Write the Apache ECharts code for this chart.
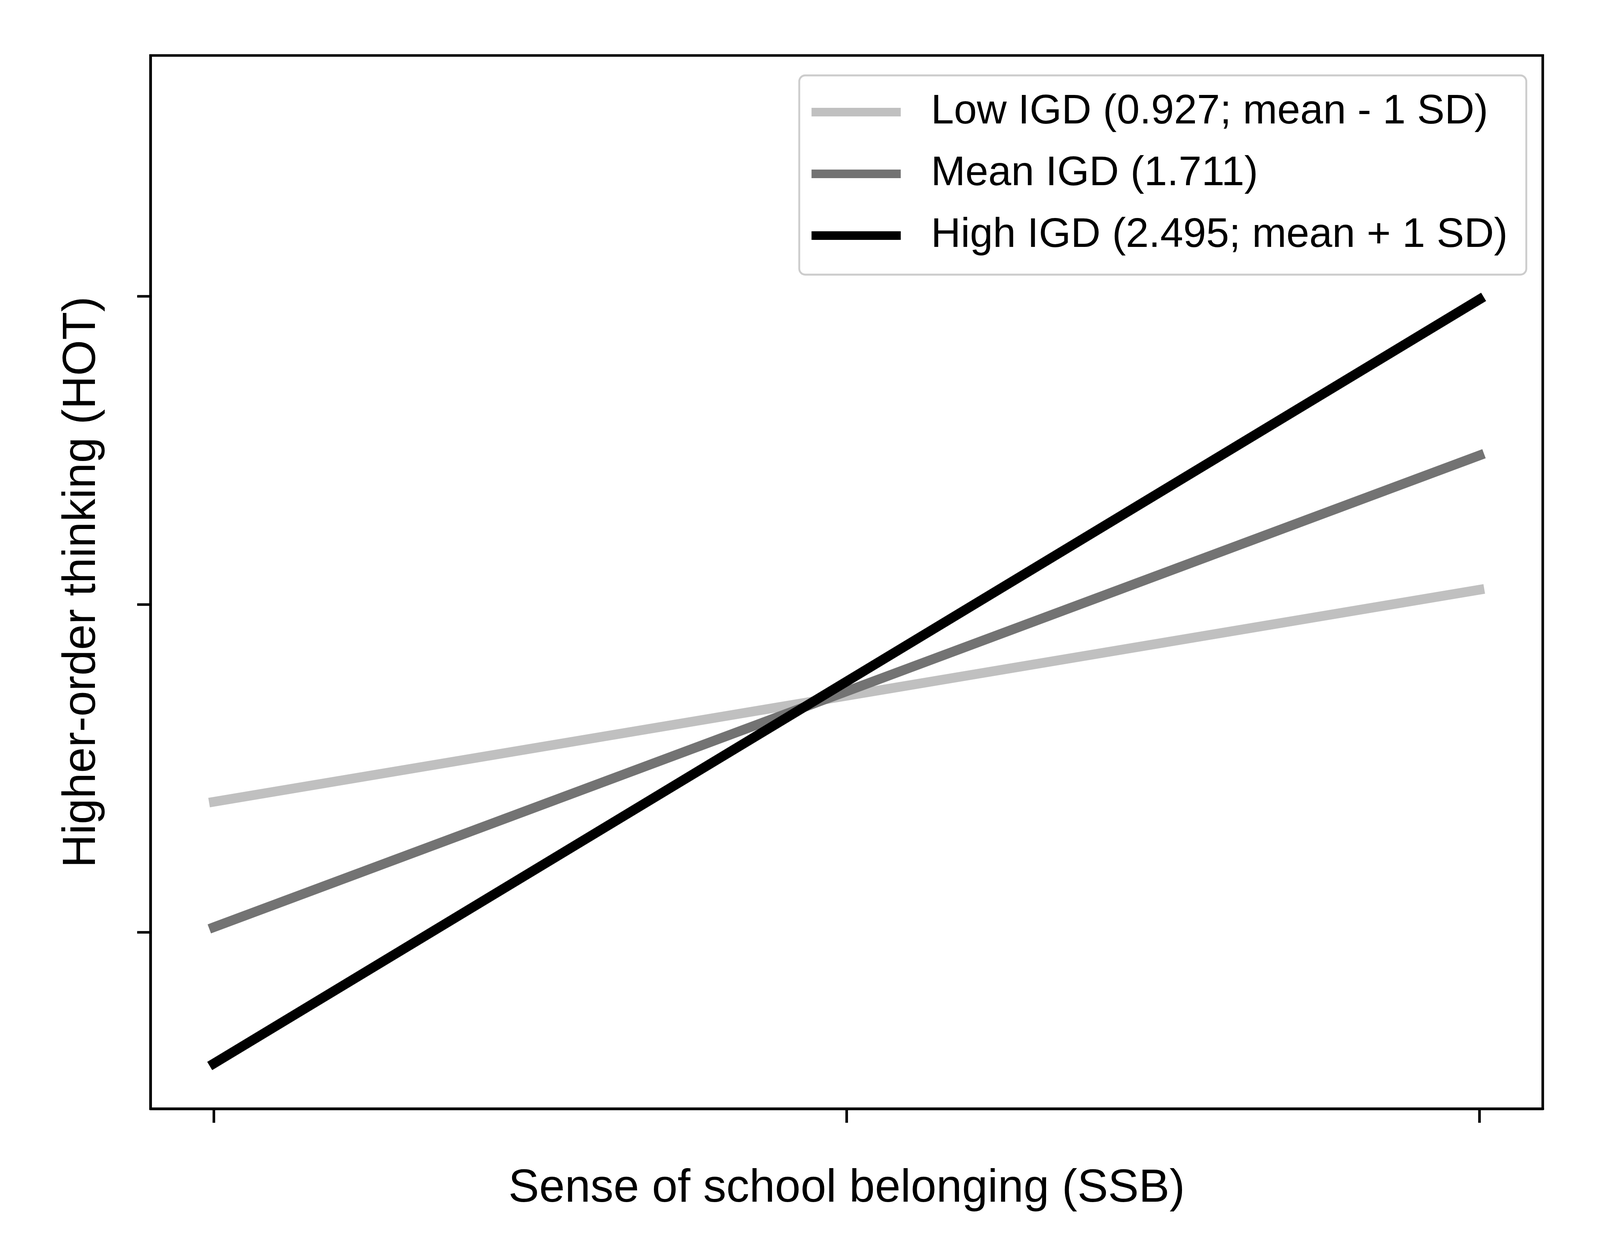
<!DOCTYPE html>
<html>

<head>
    <meta charset="utf-8">
    <title>IGD x SSB on HOT</title>
    <script src="https://cdn.jsdelivr.net/npm/echarts@6/dist/echarts.min.js"></script>
    <style>
        html, body { margin: 0; padding: 0; background: #fff; overflow: hidden; }
        #main { width: 100vw; height: 100vh; }
    </style>
</head>

<body>
    <div id="main"></div>
    <script type="text/javascript">
        // the layout was measured on a 4304 x 3215 canvas, scale it to the real viewport
        var W = window.innerWidth, H = window.innerHeight;
        var sx = W / 4304, sy = H / 3215;

        var myChart = echarts.init(document.getElementById('main'));

        // x: SSB at mean - 1 SD, mean + 1 SD (standardised)
        var ssbPoints = [-1, 1];
        var xTicks = [-1, 0, 1];
        // y ticks (unlabelled in the original)
        var yTicks = [-0.515, 0, 0.484];

        var seriesNames = ['Low IGD (0.927; mean - 1 SD)', 'Mean IGD (1.711)', 'High IGD (2.495; mean + 1 SD)'];
        var lowIGD = [-0.310, 0.023];
        var meanIGD = [-0.507, 0.234];
        var highIGD = [-0.721, 0.479];
        var lineColors = ['#c0c0c0', '#737373', '#000000'];

        var FONT = '"Liberation Sans", Arial, Helvetica, sans-serif';

        function pairs(ys) {
            return ssbPoints.map(function(x, i) {
                return [x, ys[i]];
            });
        }

        var allValues = [lowIGD, meanIGD, highIGD];
        var series = allValues.map(function(vals, i) {
            return {
                name: seriesNames[i],
                type: 'line',
                data: pairs(vals),
                showSymbol: false,
                symbol: 'none',
                animation: false,
                itemStyle: { color: lineColors[i] },
                lineStyle: { color: lineColors[i], width: 26 * sx, cap: 'square' },
                z: 3 + i
            };
        });

        var axisLineStyle = { color: '#000', width: 7 * sx };

        var option = {
            animation: false,
            backgroundColor: '#fff',
            grid: {
                left: 405 * sx,
                right: 154 * sx,
                top: 142 * sy,
                bottom: 377 * sy,
                show: true,
                borderColor: '#000',
                borderWidth: 7 * sx,
                backgroundColor: 'transparent',
                containLabel: false,
                outerBoundsMode: 'none'
            },
            legend: {
                orient: 'vertical',
                left: 2150 * sx,
                top: 193 * sy,
                padding: [34 * sy, 50 * sx, 40 * sy, 33 * sx],
                itemGap: 38 * sy,
                itemWidth: 240 * sx,
                itemHeight: 22 * sy,
                icon: 'rect',
                backgroundColor: '#fff',
                borderColor: '#cccccc',
                borderWidth: 5 * sx,
                borderRadius: 16 * sx,
                data: seriesNames,
                textStyle: {
                    fontFamily: FONT,
                    fontSize: 111 * sx,
                    lineHeight: 120 * sy,
                    color: '#000',
                    padding: [0, 0, 0, 76 * sx]
                }
            },
            xAxis: {
                type: 'value',
                min: -1.1,
                max: 1.1,
                name: 'Sense of school belonging (SSB)',
                nameLocation: 'middle',
                nameGap: 146 * sy,
                nameTextStyle: { fontFamily: FONT, fontSize: 124 * sx, color: '#000' },
                axisLine: { show: true, onZero: false, lineStyle: axisLineStyle },
                axisTick: {
                    show: true,
                    customValues: xTicks,
                    length: 36 * sy,
                    lineStyle: axisLineStyle
                },
                axisLabel: { show: false, customValues: xTicks },
                splitLine: { show: false }
            },
            yAxis: {
                type: 'value',
                min: -0.792,
                max: 0.862,
                name: 'Higher-order thinking (HOT)',
                nameLocation: 'middle',
                nameGap: 122 * sx,
                nameTextStyle: { fontFamily: FONT, fontSize: 124 * sx, color: '#000' },
                axisLine: { show: true, onZero: false, lineStyle: axisLineStyle },
                axisTick: {
                    show: true,
                    customValues: yTicks,
                    length: 36 * sx,
                    lineStyle: axisLineStyle
                },
                axisLabel: { show: false, customValues: yTicks },
                splitLine: { show: false }
            },
            series: series
        };

        myChart.setOption(option);
        window.addEventListener('resize', function() {
            myChart.resize();
        });
    </script>
</body>

</html>
